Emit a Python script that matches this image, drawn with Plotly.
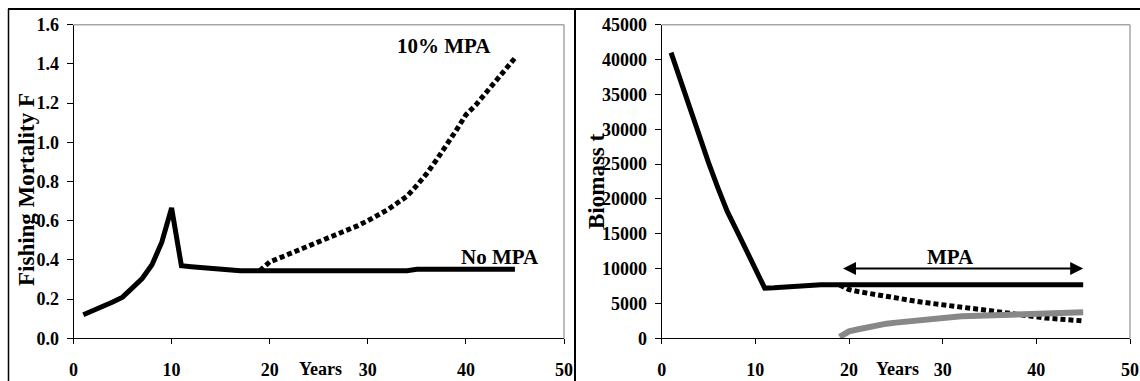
import plotly.graph_objects as go

# ---------------- data ----------------
years = list(range(1, 46))
years_mpa = list(range(19, 46))

f_no_mpa = [0.12, 0.14, 0.16, 0.185, 0.21, 0.255, 0.305, 0.375, 0.49, 0.665,
            0.37, 0.365, 0.36, 0.355, 0.35, 0.345, 0.345, 0.345, 0.345, 0.345,
            0.345, 0.345, 0.345, 0.345, 0.345, 0.345, 0.345, 0.345, 0.345, 0.345,
            0.345, 0.345, 0.345, 0.345, 0.352, 0.352, 0.352, 0.352, 0.352, 0.352,
            0.352, 0.352, 0.352, 0.352, 0.352]
f_10_mpa = [0.345, 0.39, 0.41, 0.43, 0.45, 0.47, 0.49, 0.51, 0.53, 0.55,
            0.575, 0.60, 0.625, 0.655, 0.69, 0.725, 0.78, 0.84, 0.91, 0.98,
            1.06, 1.14, 1.19, 1.25, 1.31, 1.37, 1.43]

biomass_no_mpa = [41000, 37000, 33200, 29200, 25200, 21600, 18200, 15500, 12800, 10000,
                  7200, 7250, 7350, 7500, 7650, 7700, 7700, 7700, 7700, 7700,
                  7700, 7700, 7700, 7700, 7700, 7700, 7700, 7700, 7700, 7700,
                  7700, 7700, 7700, 7700, 7700, 7700, 7700, 7700, 7700, 7700,
                  7700, 7700, 7700, 7700, 7700]
biomass_fished = [7650, 7000, 6700, 6450, 6200, 5950, 5750, 5550, 5350, 5150,
                  4950, 4800, 4600, 4450, 4300, 4150, 3950, 3750, 3550, 3350,
                  3200, 3050, 2900, 2800, 2700, 2600, 2500]
biomass_in_mpa = [200, 1000, 1300, 1600, 1850, 2100, 2250, 2400, 2550, 2700,
                  2800, 2950, 3050, 3150, 3200, 3250, 3300, 3350, 3400, 3450,
                  3480, 3500, 3550, 3600, 3650, 3700, 3750]

x_ticks = [0, 10, 20, 30, 40, 50]
f_ticks = [0.0, 0.2, 0.4, 0.6, 0.8, 1.0, 1.2, 1.4, 1.6]
f_tick_labels = ["0.0", "0.2", "0.4", "0.6", "0.8", "1.0", "1.2", "1.4", "1.6"]
b_ticks = [0, 5000, 10000, 15000, 20000, 25000, 30000, 35000, 40000, 45000]
b_tick_labels = [str(v) for v in b_ticks]

mpa_arrow_start, mpa_arrow_end, mpa_arrow_level = 19.2, 45, 10000

# ---------------- figure ----------------
W, H = 1140, 381
FONT = "Liberation Serif, Times New Roman, serif"

def px_x(p):
    return p / W

def px_y(p):
    return (H - p) / H

fig = go.Figure()

fig.add_trace(go.Scatter(x=years, y=f_no_mpa, mode="lines",
                         line=dict(color="black", width=5), xaxis="x", yaxis="y"))
fig.add_trace(go.Scatter(x=years_mpa, y=f_10_mpa, mode="lines",
                         line=dict(color="black", width=5, dash="5px,3px"), xaxis="x", yaxis="y"))

fig.add_trace(go.Scatter(x=years, y=biomass_no_mpa, mode="lines",
                         line=dict(color="black", width=5), xaxis="x2", yaxis="y2"))
fig.add_trace(go.Scatter(x=years_mpa, y=biomass_fished, mode="lines",
                         line=dict(color="black", width=5, dash="5px,3px"), xaxis="x2", yaxis="y2"))
fig.add_trace(go.Scatter(x=years_mpa, y=biomass_in_mpa, mode="lines",
                         line=dict(color="#888888", width=6), xaxis="x2", yaxis="y2"))

tickfont = dict(family=FONT, size=18, color="black", weight="bold")
ydom = [px_y(338.3), px_y(24.7)]

common_x = dict(range=[0, 50], tickvals=x_ticks, ticktext=[str(v) for v in x_ticks],
                showline=True, linecolor="black", linewidth=1, ticks="outside",
                ticklen=5, tickcolor="black", showgrid=False, zeroline=False,
                tickfont=tickfont, ticklabelstandoff=10, fixedrange=True, automargin=False)
common_y = dict(showline=True, linecolor="black", linewidth=1, ticks="outside",
                ticklen=6, tickcolor="black", showgrid=False, zeroline=False,
                tickfont=tickfont, ticklabelstandoff=4, domain=ydom, fixedrange=True,
                automargin=False)

fig.update_layout(
    template="none",
    width=W, height=H, autosize=False,
    margin=dict(l=0, r=0, t=0, b=0, pad=0, autoexpand=False),
    paper_bgcolor="white", plot_bgcolor="white",
    showlegend=False,
    xaxis=dict(domain=[px_x(73.5), px_x(564)], anchor="y", **common_x),
    yaxis=dict(range=[0, 1.6], tickvals=f_ticks, ticktext=f_tick_labels, anchor="x", **common_y),
    xaxis2=dict(domain=[px_x(661.7), px_x(1130)], anchor="y2", **common_x),
    yaxis2=dict(range=[0, 45000], tickvals=b_ticks, ticktext=b_tick_labels, anchor="x2", **common_y),
)

shapes = []
# gray top/right borders of the plot areas
for xr, yr in (("x domain", "y domain"), ("x2 domain", "y2 domain")):
    shapes.append(dict(type="line", xref=xr, yref=yr, x0=0, x1=1, y0=1, y1=1,
                       line=dict(color="#a6a6a6", width=1.5)))
    shapes.append(dict(type="line", xref=xr, yref=yr, x0=1, x1=1, y0=0, y1=1,
                       line=dict(color="#a6a6a6", width=1.5)))
# outer frame
shapes.append(dict(type="line", xref="paper", yref="paper", x0=px_x(8), x1=1,
                   y0=px_y(9), y1=px_y(9), line=dict(color="black", width=2)))
shapes.append(dict(type="line", xref="paper", yref="paper", x0=px_x(8.5), x1=px_x(8.5),
                   y0=px_y(9), y1=0, line=dict(color="black", width=1.5)))
shapes.append(dict(type="line", xref="paper", yref="paper", x0=px_x(575), x1=px_x(575),
                   y0=px_y(9), y1=0, line=dict(color="black", width=2)))
fig.update_layout(shapes=shapes)

lab = dict(family=FONT, size=21, color="black", weight="bold")
ttl = dict(family=FONT, size=23, color="black", weight="bold")
ann = [
    dict(text="10% MPA", x=37.8, y=1.49, xref="x", yref="y", showarrow=False, font=lab),
    dict(text="No MPA", x=43.5, y=0.416, xref="x", yref="y", showarrow=False, font=lab),
    dict(text="MPA", x=30.8, y=11700, xref="x2", yref="y2", showarrow=False, font=lab),
    dict(text="", x=mpa_arrow_end, y=mpa_arrow_level, ax=mpa_arrow_start, ay=mpa_arrow_level,
         xref="x2", yref="y2", axref="x2", ayref="y2", showarrow=True,
         arrowhead=2, arrowside="end+start", arrowwidth=2, arrowsize=1.3, arrowcolor="black"),
    dict(text="Years", x=25.2, y=px_y(369), xref="x", yref="paper", showarrow=False,
         font=tickfont, yanchor="middle"),
    dict(text="Years", x=25.2, y=px_y(369), xref="x2", yref="paper", showarrow=False,
         font=tickfont, yanchor="middle"),
    dict(text="Fishing Mortality F", x=px_x(26), y=px_y(190), xref="paper", yref="paper",
         showarrow=False, textangle=-90, font=ttl, xanchor="center", yanchor="middle"),
    dict(text="Biomass t", x=px_x(596), y=px_y(181), xref="paper", yref="paper",
         showarrow=False, textangle=-90, font=ttl, xanchor="center", yanchor="middle"),
]
fig.update_layout(annotations=ann)

fig.write_html("out.html", config={"displayModeBar": False, "staticPlot": True},
               post_script="document.body.style.margin='0';")
